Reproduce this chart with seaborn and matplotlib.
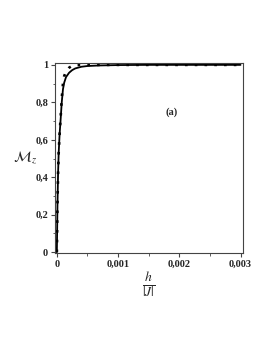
import numpy as np
import seaborn as sns
import matplotlib.pyplot as plt

# solid curve
h_solid = [0, 0.000005, 0.00001, 0.00002, 0.00003, 0.000045, 0.00006, 0.00008,
           0.0001, 0.00012, 0.00015, 0.0002, 0.00025, 0.0003, 0.0004, 0.0005,
           0.0007, 0.001, 0.0015, 0.003]
m_solid = [0, 0.12, 0.25, 0.42, 0.53, 0.63, 0.70, 0.80,
           0.87, 0.905, 0.935, 0.958, 0.972, 0.981, 0.99, 0.994,
           0.997, 0.999, 1.0, 1.0]

# dotted curve
h_dot = [0, 0.000005, 0.00001, 0.00002, 0.00003, 0.000045, 0.00006, 0.00008,
         0.0001, 0.00012, 0.00015, 0.0002, 0.00025, 0.0003, 0.0004, 0.003]
m_dot = [0, 0.12, 0.25, 0.42, 0.53, 0.63, 0.71, 0.82,
         0.90, 0.94, 0.965, 0.985, 0.995, 0.999, 1.0, 1.0]

xticks = [0, 0.001, 0.002, 0.003]
xtick_labels = ["0", "0,001", "0,002", "0,003"]
yticks = [0, 0.2, 0.4, 0.6, 0.8, 1.0]
ytick_labels = ["0", "0,2", "0,4", "0,6", "0,8", "1"]

sns.set_style("ticks")
plt.rcParams['font.family'] = ['Liberation Serif', 'DejaVu Serif']
plt.rcParams['mathtext.fontset'] = 'stix'

fig = plt.figure(figsize=(2.73, 3.54), dpi=100)
ax = fig.add_axes([0.2015, 0.285, 0.6885, 0.537])

sns.lineplot(x=h_solid, y=m_solid, ax=ax, color='black', linewidth=1.3,
             estimator=None, sort=False)
sns.lineplot(x=h_dot, y=m_dot, ax=ax, color='black', linewidth=1.9,
             estimator=None, sort=False, linestyle=(0, (1, 2.7)),
             dash_capstyle='butt')

ax.set_xlim(-0.00003, 0.00304)
ax.set_ylim(-0.005, 1.01)
ax.set_xticks(xticks)
ax.set_xticklabels(xtick_labels)
ax.set_yticks(yticks)
ax.set_yticklabels(ytick_labels)
ax.set_xticks([0.0005, 0.0015, 0.0025], minor=True)
ax.set_yticks([0.1, 0.3, 0.5, 0.7, 0.9], minor=True)
ax.tick_params(which='major', direction='out', length=3, width=0.8,
               labelsize=7.5, pad=2, color='#444444')
ax.tick_params(which='minor', direction='out', length=1.8, width=0.6,
               color='#444444')
for lbl in ax.get_xticklabels() + ax.get_yticklabels():
    lbl.set_fontweight('bold')

for s in ax.spines.values():
    s.set_visible(True)
    s.set_linewidth(0.8)
    s.set_color('#444444')

ax.text(0.00187, 0.748, "(a)", fontsize=7.5, fontweight='bold',
        ha='center', va='center')

fig.text(0.092, 0.557, r'$\mathcal{M}_z$', fontsize=11, ha='center', va='center')
fig.text(0.546, 0.198, r'$\frac{h}{|J|}$', fontsize=14, ha='center', va='center')

fig.savefig("out.png", dpi=100)
